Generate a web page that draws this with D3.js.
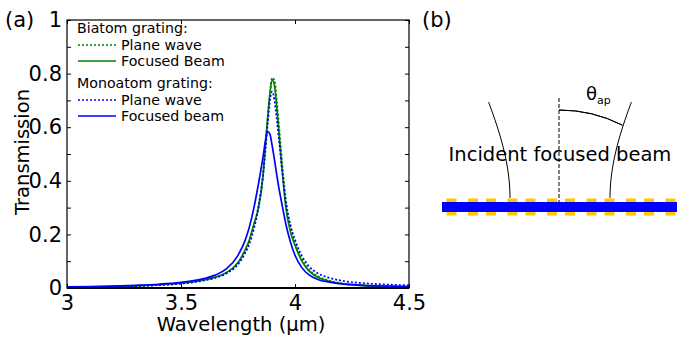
<!DOCTYPE html>
<html><head><meta charset="utf-8">
<script src="https://cdn.jsdelivr.net/npm/d3@7"></script>
<style>
html,body{margin:0;padding:0;background:#fff;}
svg{display:block;font-family:"DejaVu Sans",sans-serif;}
</style></head>
<body>
<svg id="c" width="694" height="337"></svg>
<script>
// ---- data ----
const wavelengths = [3.0,3.1,3.2,3.3,3.4,3.5,3.55,3.6,3.65,3.7,3.75,3.78,3.8,3.82,3.84,3.86,3.87,3.88,3.89,3.9,3.91,3.92,3.93,3.94,3.95,3.96,3.98,4.0,4.03,4.06,4.1,4.15,4.2,4.3,4.4,4.5];
const biatomPlane   = [0.003,0.004,0.005,0.008,0.011,0.017,0.022,0.029,0.039,0.056,0.092,0.135,0.175,0.232,0.310,0.430,0.525,0.630,0.725,0.785,0.775,0.700,0.605,0.505,0.410,0.330,0.230,0.170,0.108,0.070,0.044,0.028,0.018,0.010,0.006,0.004];
const biatomFocused = [0.003,0.004,0.006,0.008,0.012,0.018,0.023,0.030,0.040,0.058,0.095,0.140,0.180,0.240,0.300,0.420,0.530,0.635,0.725,0.778,0.755,0.675,0.575,0.475,0.380,0.300,0.210,0.160,0.100,0.065,0.040,0.025,0.016,0.009,0.006,0.004];
const monoPlane     = [0.003,0.004,0.005,0.007,0.011,0.016,0.021,0.028,0.038,0.055,0.088,0.128,0.165,0.222,0.300,0.420,0.510,0.610,0.700,0.733,0.700,0.630,0.550,0.465,0.390,0.320,0.235,0.180,0.120,0.082,0.055,0.038,0.028,0.018,0.013,0.010];
const monoFocused   = [0.004,0.005,0.007,0.010,0.014,0.021,0.027,0.035,0.048,0.072,0.122,0.175,0.228,0.300,0.390,0.490,0.548,0.584,0.574,0.530,0.478,0.422,0.370,0.325,0.280,0.238,0.172,0.122,0.076,0.050,0.032,0.022,0.016,0.010,0.007,0.005];
const xTicks = [3, 3.5, 4, 4.5];
const xTickLabels = ["3", "3.5", "4", "4.5"];
const yTicks = [0, 0.2, 0.4, 0.6, 0.8, 1];
const yTickLabels = ["0", "0.2", "0.4", "0.6", "0.8", "1"];
const yMinorTicks = [0.1, 0.3, 0.5, 0.7, 0.9];
const seriesNames = ["Plane wave", "Focused Beam", "Plane wave", "Focused beam"];
const groupTitles = ["Biatom grating:", "Monoatom grating:"];

// ---- chart ----
const svg = d3.select("#c");
const L = 67, R = 409, T = 20, B = 288;
const x = d3.scaleLinear().domain([3, 4.5]).range([L, R]);
const y = d3.scaleLinear().domain([0, 1]).range([B, T]);
const GREEN = "#008000", BLUE = "#0000ff";

const series = [
  {vals: biatomPlane, color: GREEN, dash: "2,2"},
  {vals: biatomFocused, color: GREEN, dash: null},
  {vals: monoPlane, color: BLUE, dash: "2,2"},
  {vals: monoFocused, color: BLUE, dash: null}
];

const line = d3.line().x((d,i)=>x(wavelengths[i])).y(d=>y(d)).curve(d3.curveMonotoneX);
const drawOrder = [1, 0, 3, 2];
drawOrder.forEach(k => {
  const s = series[k];
  svg.append("path").attr("d", line(s.vals)).attr("fill","none")
    .attr("stroke", s.color).attr("stroke-width", 1.7)
    .attr("stroke-dasharray", s.dash);
});

// frame
svg.append("rect").attr("x",L).attr("y",T).attr("width",R-L).attr("height",B-T)
  .attr("fill","none").attr("stroke","#000").attr("stroke-width",1.2);
svg.append("line").attr("x1",L).attr("x2",R).attr("y1",B).attr("y2",B).attr("stroke","#000").attr("stroke-width",2);

// axes (ticks inward)
const tl = 4;
const axB = svg.append("g").attr("transform",`translate(0,${B})`)
  .call(d3.axisBottom(x).tickValues(xTicks).tickSize(-tl).tickFormat((d,i)=>xTickLabels[i]).tickPadding(7));
const axT = svg.append("g").attr("transform",`translate(0,${T})`)
  .call(d3.axisTop(x).tickValues(xTicks).tickSize(-tl).tickFormat(""));
const allY = yTicks.concat(yMinorTicks);
const axL = svg.append("g").attr("transform",`translate(${L},0)`)
  .call(d3.axisLeft(y).tickValues(allY).tickSize(-tl).tickPadding(5)
    .tickFormat(d => { const i = yTicks.indexOf(d); return i >= 0 ? yTickLabels[i] : ""; }));
const axR = svg.append("g").attr("transform",`translate(${R},0)`)
  .call(d3.axisRight(y).tickValues(allY).tickSize(-tl).tickFormat(""));
[axB, axT, axL, axR].forEach(a => {
  a.select(".domain").remove();
  a.selectAll(".tick line").attr("stroke","#000").attr("stroke-width",1);
  a.selectAll("text").attr("font-family","DejaVu Sans").attr("font-size",21).attr("fill","#000");
});
axB.selectAll("text").attr("dy","0.72em");

// axis titles
svg.append("text").attr("x",(L+R)/2+3).attr("y",331).attr("text-anchor","middle")
  .attr("font-size",19.5).text("Wavelength (µm)");
svg.append("text").attr("transform",`translate(29,${(T+B)/2 - 2}) rotate(-90)`).attr("text-anchor","middle")
  .attr("font-size",19.5).text("Transmission");
svg.append("text").attr("x",5).attr("y",27).attr("font-size",21).text("(a)");

// legend
const lg = svg.append("g").attr("font-size",14.2);
const legendRows = [
  {title: groupTitles[0], y: 33},
  {series: 0, y: 50},
  {series: 1, y: 66},
  {title: groupTitles[1], y: 88},
  {series: 2, y: 105},
  {series: 3, y: 121}
];
legendRows.forEach(r => {
  if (r.title) {
    lg.append("text").attr("x",77).attr("y",r.y).text(r.title);
  } else {
    const s = series[r.series];
    lg.append("line").attr("x1",78).attr("x2",116).attr("y1",r.y-5).attr("y2",r.y-5)
      .attr("stroke",s.color).attr("stroke-width",1.7).attr("stroke-dasharray",s.dash);
    lg.append("text").attr("x",121).attr("y",r.y).text(seriesNames[r.series]);
  }
});

// ---- panel (b) schematic ----
const gb = svg.append("g");
gb.append("text").attr("x",422).attr("y",27).attr("font-size",21).text("(b)");
const cx = 560, barL = 442, barR = 677, barTop = 202, barBot = 212;
// yellow dashes
const dashStarts = d3.range(6).flatMap(k => [446.5 + k*39.5, 468 + k*39.5]);
dashStarts.forEach(s => {
  gb.append("rect").attr("x",s).attr("y",barTop-3.5).attr("width",10).attr("height",barBot-barTop+7).attr("fill","#ffc800");
});
gb.append("rect").attr("x",barL).attr("y",barTop).attr("width",barR-barL).attr("height",barBot-barTop).attr("fill","#0000ff");
// beam envelope (hyperbolic)
const w0 = 50, zR = 94, zTop = 97;
const zs = d3.range(0, zTop+0.1, 4);
const envL = d3.line().x(z => cx - w0*Math.sqrt(1+(z/zR)**2)).y(z => 198 - z).curve(d3.curveBasis);
const envR = d3.line().x(z => cx + w0*Math.sqrt(1+(z/zR)**2)).y(z => 198 - z).curve(d3.curveBasis);
gb.append("path").attr("d",envL(zs)).attr("fill","none").attr("stroke","#000").attr("stroke-width",1);
gb.append("path").attr("d",envR(zs)).attr("fill","none").attr("stroke","#000").attr("stroke-width",1);
// dashed axis
gb.append("line").attr("x1",cx-1).attr("x2",cx-1).attr("y1",98).attr("y2",202)
  .attr("stroke","#000").attr("stroke-width",1).attr("stroke-dasharray","4,2");
// angle arc
const arc = d3.arc().innerRadius(140).outerRadius(140).startAngle(0).endAngle(0.47);
gb.append("path").attr("d",arc()).attr("transform",`translate(${cx-1},250)`).attr("fill","none").attr("stroke","#000").attr("stroke-width",1);
gb.append("text").attr("x",586).attr("y",100).attr("font-size",18).text("θ")
  .append("tspan").attr("font-size",11).attr("dy",4).text("ap");
gb.append("text").attr("x",560).attr("y",161).attr("text-anchor","middle").attr("font-size",19.5).text("Incident focused beam");
</script>
</body></html>
